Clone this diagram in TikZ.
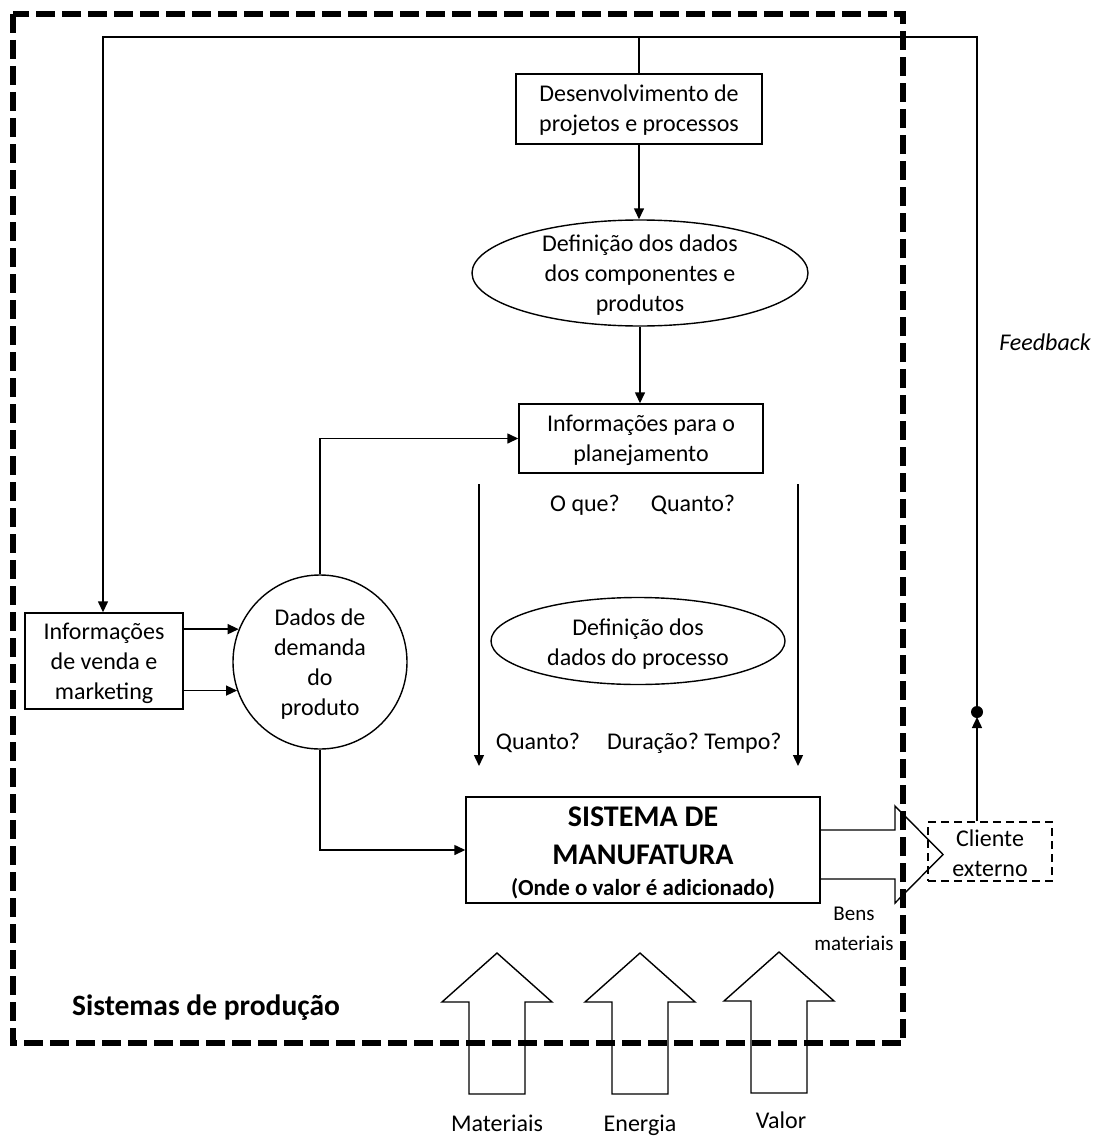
\documentclass[tikz,border=0pt]{standalone}
\usepackage{fontspec}
\setmainfont{Carlito}
\usetikzlibrary{shapes.geometric,arrows.meta}
\begin{document}
\begin{tikzpicture}[x=1pt,y=-1pt,
  txt/.style={font=\fontsize{24}{30}\selectfont, align=center, inner sep=0pt},
  boldtxt/.style={font=\fontsize{30}{36}\selectfont\bfseries, align=center, inner sep=0pt},
  boxnode/.style={draw, line width=1.4pt, inner sep=0pt},
  ellnode/.style={draw, ellipse, line width=1.4pt, inner sep=0pt},
  conn/.style={line width=1.4pt, -{Triangle[length=11pt,width=10pt]}},
  plainline/.style={line width=1.4pt},
  blockarrow/.style={draw, line width=1.4pt, line join=miter},
  frame/.style={line width=6pt, dash pattern=on 19pt off 7pt},
  uparrow/.pic={\draw[blockarrow] (-28,141) -- (-28,49) -- (-55,49) -- (0,0)
      -- (55,49) -- (28,49) -- (28,141) -- cycle;}
]
\useasboundingbox (0,0) rectangle (1096,1137);

% ---- blocks ----
\node[boxnode, minimum width=246pt, minimum height=70pt] (dev) at (639,109) {};
\node[txt] (devtxt) at (639,110) {Desenvolvimento de\\projetos e processos};

\node[ellnode, minimum width=336pt, minimum height=106pt] (comp) at (640,273) {};
\node[txt] (comptxt) at (640,275) {Definição dos dados\\dos componentes e\\produtos};

\node[boxnode, minimum width=244pt, minimum height=69pt] (plan) at (641,438.5) {};
\node[txt] (plantxt) at (641,440) {Informações para o\\planejamento};

\node[boxnode, minimum width=158pt, minimum height=96pt] (venda) at (104,661) {};
\node[txt] (vendatxt) at (104,663) {Informações\\de venda e\\marketing};

\node[draw, circle, line width=1.4pt, minimum size=174pt, inner sep=0pt] (dem) at (320,662) {};
\node[txt] (demtxt) at (320,664) {Dados de\\demanda\\do\\produto};

\node[ellnode, minimum width=294pt, minimum height=87pt] (proc) at (638,641) {};
\node[txt] (proctxt) at (638,644) {Definição dos\\dados do processo};

\node[boxnode, minimum width=354pt, minimum height=106pt] (sys) at (643,850) {};
\node[boldtxt] (sys1) at (643,817) {SISTEMA DE};
\node[boldtxt] (sys2) at (643,855) {MANUFATURA};
\node[font=\fontsize{23}{28}\selectfont\bfseries, inner sep=0pt] (sys3) at (643,889) {(Onde o valor é adicionado)};

\node[draw, line width=1.2pt, dash pattern=on 8pt off 5pt, minimum width=124pt, minimum height=59pt, inner sep=0pt] (cli) at (990,851.5) {};
\node[txt] (clitxt) at (990,853) {Cliente\\externo};

% ---- question labels ----
\node[txt] (q1) at (585,505) {O que?};
\node[txt] (q2) at (693,505) {Quanto?};
\node[txt] (q3) at (538,743) {Quanto?};
\node[txt] (q4) at (653,743) {Duração?};
\node[txt] (q5) at (743,743) {Tempo?};

% ---- other labels ----
\node[font=\fontsize{24}{30}\selectfont\itshape, inner sep=0pt] (fbtxt) at (1045,342) {Feedback};
\node[font=\fontsize{21}{30}\selectfont, align=center, inner sep=0pt] (bens) at (854,929) {Bens\\materiais};
\node[font=\fontsize{29.5}{34}\selectfont\bfseries, inner sep=0pt] (sistemas) at (206,1008) {Sistemas de produção};

% ---- connectors ----
\coordinate (fbR) at (977,37);
\coordinate (fbL) at (103,37);
\coordinate (fbmark) at (977,717);
\draw[conn] (fbR |- cli.north) -- (fbmark);
\node[circle, fill, minimum size=12pt, inner sep=0pt] (fbdot) at (977,712) {};
\draw[conn] (fbmark) -- (fbR) -- (fbL) -- (fbL |- venda.north);
\draw[plainline] (dev.north |- fbL) -- (dev.north);

\draw[conn] (dev.south) -- (dev.south |- comp.north);
\draw[conn] (comp.south) -- (comp.south |- plan.north);
\draw[conn] (dem.north) -- (dem.north |- plan.west) -- (plan.west);
\draw[conn] (dem.south) -- (dem.south |- sys.west) -- (sys.west);
\draw[conn] (venda.east |- dem.158) -- (dem.158);
\draw[conn] (venda.east |- dem.199) -- (dem.199);

\coordinate (la) at (479,484);
\coordinate (lb) at (479,766);
\coordinate (ra) at (798,484);
\coordinate (rb) at (798,766);
\draw[conn] (la) -- (lb);
\draw[conn] (ra) -- (rb);

% ---- block arrows ----
\draw[blockarrow] (sys.east |- 0,830) -- (895,830) -- (895,806) -- (943,854.5)
  -- (895,903) -- (895,879) -- (sys.east |- 0,879);
\pic at (497,953) {uparrow};
\pic at (640,953) {uparrow};
\pic at (779,952) {uparrow};

\node[font=\fontsize{24}{30}\selectfont, anchor=base, inner sep=0pt] (mat) at (497,1131) {Materiais};
\node[font=\fontsize{24}{30}\selectfont, anchor=base, inner sep=0pt] (ene) at (640,1131) {Energia};
\node[font=\fontsize{24}{30}\selectfont, anchor=base, inner sep=0pt] (val) at (781,1128) {Valor};

% ---- system boundary ----
\draw[frame] (13,14) rectangle (903,1043);
\end{tikzpicture}
\end{document}
